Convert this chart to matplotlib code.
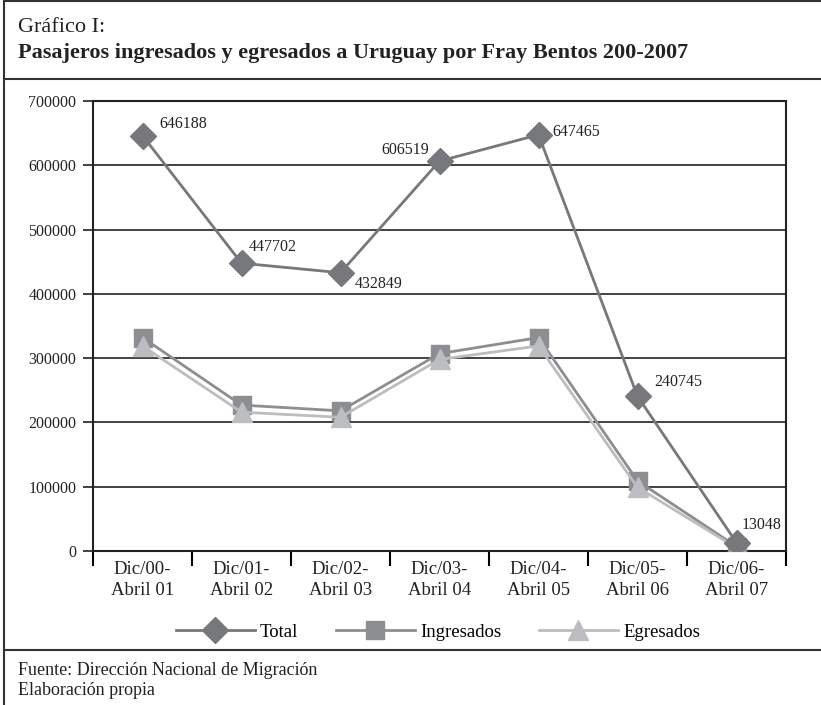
import matplotlib
matplotlib.use("Agg")
import matplotlib.pyplot as plt
from matplotlib.lines import Line2D

# Data
periods = ["Dic/00-\nAbril 01", "Dic/01-\nAbril 02", "Dic/02-\nAbril 03",
           "Dic/03-\nAbril 04", "Dic/04-\nAbril 05", "Dic/05-\nAbril 06",
           "Dic/06-\nAbril 07"]
total = [646188, 447702, 432849, 606519, 647465, 240745, 13048]
ingresados = [332000, 227000, 218000, 307000, 332000, 109000, 7000]
egresados = [319000, 216000, 208000, 298000, 319000, 99000, 5000]

plt.rcParams["font.family"] = ["Liberation Serif", "DejaVu Serif"]

W, H = 821, 705
fig = plt.figure(figsize=(W / 100, H / 100), dpi=100)

# axes box in pixels: left 93, right 786, top 101, bottom 551
ax = fig.add_axes([93 / W, 1 - 551 / H, (786 - 93) / W, (551 - 101) / H])

x = list(range(len(periods)))
c_total = "#77787b"
c_ing = "#8d8e91"
c_egr = "#bcbdc0"

ax.plot(x, total, color=c_total, lw=2, marker="D", markersize=13,
        label="Total", zorder=5)
ax.plot(x, ingresados, color=c_ing, lw=2, marker="s", markersize=13,
        label="Ingresados", zorder=4)
ax.plot(x, egresados, color=c_egr, lw=2, marker="^", markersize=15,
        label="Egresados", zorder=4)

# data labels for the total series (offsets in points)
offsets = [(12, 8), (5, 12), (10, -8), (-42, 8), (10, 2), (12, 10), (4, 13)]
for xi, v, (dx, dy) in zip(x, total, offsets):
    ax.annotate(str(v), (xi, v), xytext=(dx, dy), textcoords="offset points",
                fontsize=11.5, color="#222222", va="center", ha="left")

ax.set_ylim(0, 700000)
ax.set_xlim(-0.5, len(periods) - 0.5)
ax.set_yticks(range(0, 700001, 100000))
ax.set_yticklabels([str(v) for v in range(0, 700001, 100000)])
ax.tick_params(axis="y", length=7, width=1.2, pad=5, labelsize=11.5,
               colors="#222222")

ax.set_xticks([i - 0.5 for i in range(len(periods) + 1)])
ax.set_xticklabels([])
ax.set_xticks(x, minor=True)
ax.set_xticklabels(periods, minor=True, fontsize=13.5, color="#222222",
                   linespacing=1.35)
ax.tick_params(axis="x", which="major", length=11, width=1.5, direction="out")
ax.tick_params(axis="x", which="minor", length=0, pad=7)

ax.grid(axis="y", color="#333333", lw=1.3)
ax.set_axisbelow(True)
for s in ax.spines.values():
    s.set_color("#222222")
    s.set_linewidth(1.5)

fig.legend(loc="center", bbox_to_anchor=(438 / W, 1 - 632 / H), ncol=3,
           frameon=False, fontsize=13.5, handlelength=4.2, columnspacing=2.0,
           handletextpad=0.3)

# frame and separators
border = dict(color="#333333", lw=1.5, transform=fig.transFigure)
fig.add_artist(Line2D([4 / W, 4 / W], [0, 1 - 1 / H], **border))
fig.add_artist(Line2D([4 / W, 1], [1 - 1 / H, 1 - 1 / H], **border))
fig.add_artist(Line2D([4 / W, 1], [1 - 79 / H, 1 - 79 / H], **border))
fig.add_artist(Line2D([4 / W, 1], [1 - 650 / H, 1 - 650 / H], **border))

fig.text(18 / W, 1 - 32 / H, "Gráfico I:", fontsize=16, va="baseline",
         color="#222222")
fig.text(18 / W, 1 - 58 / H,
         "Pasajeros ingresados y egresados a Uruguay por Fray Bentos 200-2007",
         fontsize=16, fontweight="bold", va="baseline", color="#222222")
fig.text(18 / W, 1 - 675 / H, "Fuente: Dirección Nacional de Migración",
         fontsize=13, va="baseline", color="#222222")
fig.text(18 / W, 1 - 695 / H, "Elaboración propia", fontsize=13,
         va="baseline", color="#222222")

fig.savefig("out.png", dpi=100)
